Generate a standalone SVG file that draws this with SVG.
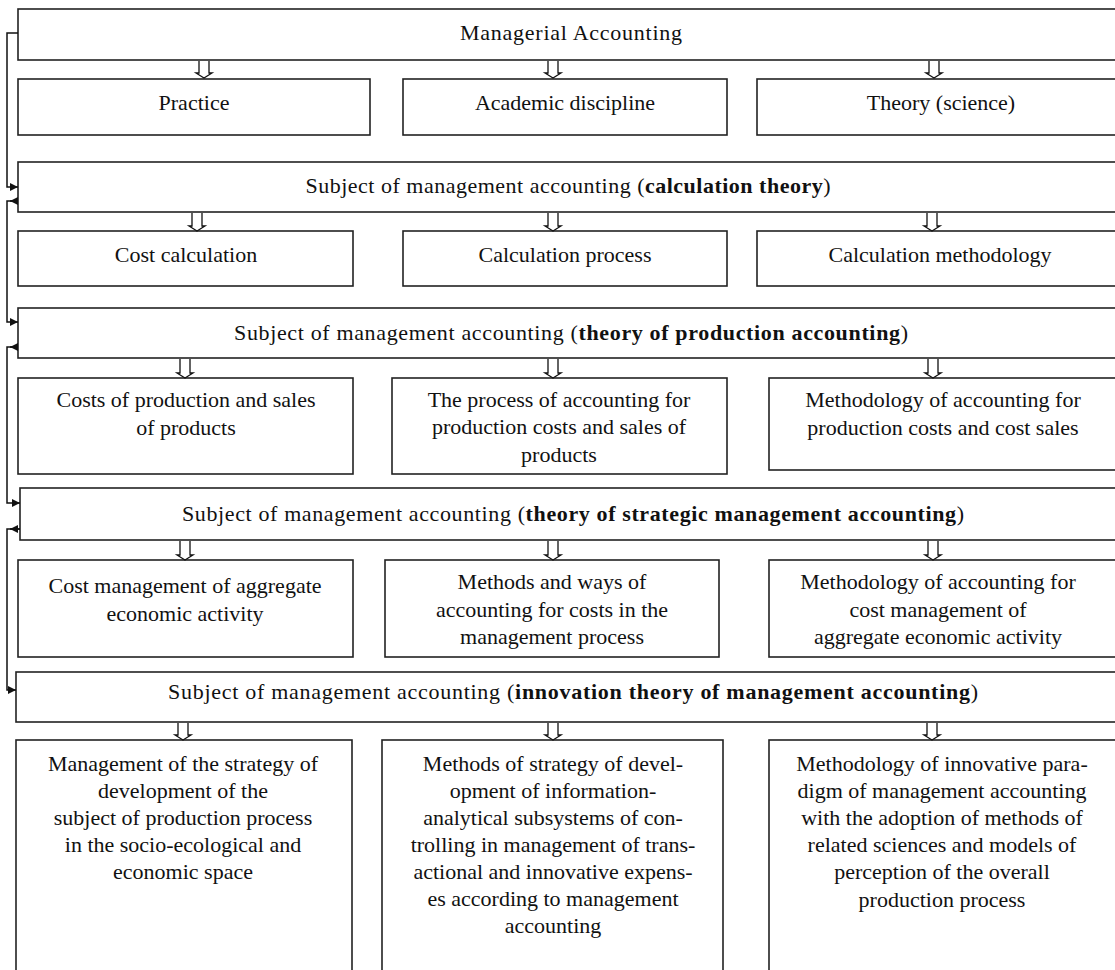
<svg xmlns="http://www.w3.org/2000/svg" width="1115" height="970" viewBox="0 0 1115 970">
<defs>
<marker id="ah" viewBox="0 0 10 10" refX="10" refY="5" markerWidth="8" markerHeight="8" markerUnits="userSpaceOnUse" orient="auto">
<path d="M0,0 L10,5 L0,10 z" fill="#111"/>
</marker>
<style>
.box{fill:#fff;stroke:#222;stroke-width:1.6}
.t{font-family:"Liberation Serif","Times New Roman",serif;font-size:22px;fill:#111;text-anchor:middle}
.b{font-weight:bold}
.c{fill:none;stroke:#111;stroke-width:1.5}
.da{fill:#fff;stroke:#111;stroke-width:1.3}
</style>
</defs>
<rect width="1115" height="970" fill="#fff"/>

<g id="n-managerial"><rect class="box" x="18" y="9" width="1110" height="51"/><text class="t" x="571" y="40" textLength="222" lengthAdjust="spacing">Managerial Accounting</text></g>
<g id="n-practice"><rect class="box" x="18" y="79" width="352" height="56"/><text class="t" x="194" y="110">Practice</text></g>
<g id="n-academic"><rect class="box" x="403" y="79" width="324" height="56"/><text class="t" x="565" y="110">Academic discipline</text></g>
<g id="n-theory"><rect class="box" x="757" y="79" width="370" height="56"/><text class="t" x="941" y="110">Theory (science)</text></g>

<g id="n-subj-calc"><rect class="box" x="18" y="162" width="1110" height="50"/><text class="t" x="568" y="193" textLength="525" lengthAdjust="spacing">Subject of management accounting (<tspan class="b">calculation theory</tspan>)</text></g>
<g id="n-cost-calc"><rect class="box" x="18" y="231" width="335" height="55"/><text class="t" x="186" y="262">Cost calculation</text></g>
<g id="n-calc-process"><rect class="box" x="403" y="231" width="324" height="55"/><text class="t" x="565" y="262">Calculation process</text></g>
<g id="n-calc-method"><rect class="box" x="757" y="231" width="370" height="55"/><text class="t" x="940" y="262">Calculation methodology</text></g>

<g id="n-subj-prod"><rect class="box" x="18" y="308" width="1110" height="50"/><text class="t" x="571" y="340" textLength="674" lengthAdjust="spacing">Subject of management accounting (<tspan class="b">theory of production accounting</tspan>)</text></g>
<g id="n-costs-prod"><rect class="box" x="18" y="378" width="335" height="96"/><text class="t" x="186" y="407">Costs of production and sales</text><text class="t" x="186" y="435">of products</text></g>
<g id="n-process-acc"><rect class="box" x="392" y="378" width="335" height="96"/><text class="t" x="559" y="407">The process of accounting for</text><text class="t" x="559" y="434">production costs and sales of</text><text class="t" x="559" y="462">products</text></g>
<g id="n-method-acc"><rect class="box" x="769" y="378" width="358" height="92"/><text class="t" x="943" y="407">Methodology of accounting for</text><text class="t" x="943" y="435">production costs and cost sales</text></g>

<g id="n-subj-strat"><rect class="box" x="20" y="488" width="1108" height="52"/><text class="t" x="573" y="521" textLength="782" lengthAdjust="spacing">Subject of management accounting (<tspan class="b">theory of strategic management accounting</tspan>)</text></g>
<g id="n-cost-mgmt"><rect class="box" x="18" y="560" width="335" height="97"/><text class="t" x="185" y="593">Cost management of aggregate</text><text class="t" x="185" y="621">economic activity</text></g>
<g id="n-methods-ways"><rect class="box" x="385" y="560" width="334" height="97"/><text class="t" x="552" y="589">Methods and ways of</text><text class="t" x="552" y="617">accounting for costs in the</text><text class="t" x="552" y="644">management process</text></g>
<g id="n-method-cost"><rect class="box" x="769" y="560" width="358" height="97"/><text class="t" x="938" y="589">Methodology of accounting for</text><text class="t" x="938" y="617">cost management of</text><text class="t" x="938" y="644">aggregate economic activity</text></g>

<g id="n-subj-innov"><rect class="box" x="16" y="672" width="1112" height="50"/><text class="t" x="573" y="699" textLength="810" lengthAdjust="spacing">Subject of management accounting (<tspan class="b">innovation theory of management accounting</tspan>)</text></g>
<g id="n-strategy"><rect class="box" x="16" y="740" width="336" height="240"/><text class="t" x="183" y="771">Management of the strategy of</text><text class="t" x="183" y="798">development of the</text><text class="t" x="183" y="825">subject of production process</text><text class="t" x="183" y="852">in the socio-ecological and</text><text class="t" x="183" y="879">economic space</text></g>
<g id="n-methods-strategy"><rect class="box" x="382" y="740" width="341" height="240"/><text class="t" x="553" y="771">Methods of strategy of devel-</text><text class="t" x="553" y="798">opment of information-</text><text class="t" x="553" y="825">analytical subsystems of con-</text><text class="t" x="553" y="852">trolling in management of trans-</text><text class="t" x="553" y="879">actional and innovative expens-</text><text class="t" x="553" y="906">es according to management</text><text class="t" x="553" y="933">accounting</text></g>
<g id="n-method-innov"><rect class="box" x="769" y="740" width="358" height="240"/><text class="t" x="942" y="771">Methodology of innovative para-</text><text class="t" x="942" y="798">digm of management accounting</text><text class="t" x="942" y="825">with the adoption of methods of</text><text class="t" x="942" y="852">related sciences and models of</text><text class="t" x="942" y="879">perception of the overall</text><text class="t" x="942" y="907">production process</text></g>

<g id="connectors">
<path class="c" d="M18,33 H7 V187 H18" marker-end="url(#ah)"/>
<path class="c" d="M18,201 H7 V322 H18" marker-end="url(#ah)"/>
<path class="c" d="M18,201 H10" marker-end="url(#ah)"/>
<path class="c" d="M18,347 H7 V503 H20" marker-end="url(#ah)"/>
<path class="c" d="M18,347 H10" marker-end="url(#ah)"/>
<path class="c" d="M20,529 H7 V690 H16" marker-end="url(#ah)"/>
<path class="c" d="M20,529 H10" marker-end="url(#ah)"/>

<path class="da" d="M199,61 V73 H196 L204,78 L212,73 H209 V61"/>
<path class="da" d="M548,61 V73 H545 L553,78 L561,73 H558 V61"/>
<path class="da" d="M929,61 V73 H926 L934,78 L942,73 H939 V61"/>

<path class="da" d="M192,213 V226 H189 L197,231 L205,226 H202 V213"/>
<path class="da" d="M548,213 V226 H545 L553,231 L561,226 H558 V213"/>
<path class="da" d="M927,213 V226 H924 L932,231 L940,226 H937 V213"/>

<path class="da" d="M180,359 V373 H177 L185,378 L193,373 H190 V359"/>
<path class="da" d="M548,359 V373 H545 L553,378 L561,373 H558 V359"/>
<path class="da" d="M928,359 V373 H925 L933,378 L941,373 H938 V359"/>

<path class="da" d="M180,541 V555 H177 L185,560 L193,555 H190 V541"/>
<path class="da" d="M548,541 V555 H545 L553,560 L561,555 H558 V541"/>
<path class="da" d="M928,541 V555 H925 L933,560 L941,555 H938 V541"/>

<path class="da" d="M178,723 V735 H175 L183,740 L191,735 H188 V723"/>
<path class="da" d="M548,723 V735 H545 L553,740 L561,735 H558 V723"/>
<path class="da" d="M927,723 V735 H924 L932,740 L940,735 H937 V723"/>
</g>
</svg>
